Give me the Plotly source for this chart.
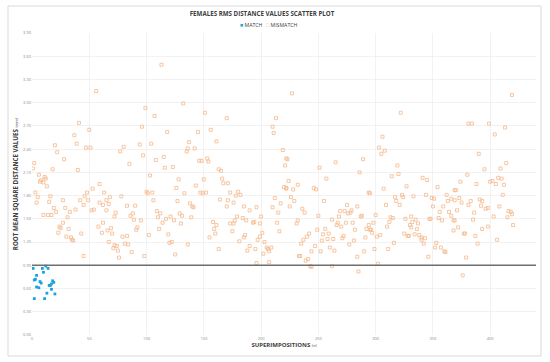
import plotly.graph_objects as go

# ---- data ----
match_n = [1, 2, 2, 3, 4, 4, 6, 7, 8, 9, 10, 11, 12, 13, 14, 15, 16, 17, 17, 18, 19, 20]
match_v = [0.86, 0.47, 0.71, 0.72, 0.77, 0.62, 0.61, 0.69, 0.67, 0.86, 0.81, 0.47,
           0.89, 0.54, 0.86, 0.64, 0.64, 0.59, 0.66, 0.70, 0.68, 0.53]

mismatch_n = [
    56, 41, 37, 50, 39, 20, 47, 51, 22, 28, 2, 1, 18, 40, 6, 11, 12, 8, 7, 10, 13, 59, 53, 3, 5, 4,
    16, 15, 48, 46, 42, 45, 49, 63, 59, 62, 65, 68, 67, 65, 27, 19, 29, 21, 38, 33, 52, 54, 10, 14,
    17, 31, 27, 24, 25, 32, 23, 30, 34, 35, 36, 43, 58, 62, 61, 66, 69, 70, 67, 71, 72, 45,
    113, 132, 99, 107, 96, 118, 145, 137, 136, 135, 142, 146, 80, 77, 94, 104, 97, 108, 115, 116,
    123, 85, 103, 128, 126, 143, 133, 147, 100, 105, 101, 78, 83, 90, 106, 127, 138, 140, 141, 88,
    86, 89, 95, 73, 72, 109, 112, 110, 121, 117, 114, 124, 129, 131, 130, 139, 92, 91, 111, 102,
    79, 83, 119, 120, 122, 136, 81, 84, 74, 75, 87, 76, 98, 125,
    151, 170, 156, 161, 213, 210, 211, 219, 221, 148, 153, 154, 163, 165, 150, 166, 167, 171, 220,
    222, 149, 152, 173, 180, 178, 182, 212, 164, 171, 176, 217, 170, 185, 196, 210, 190, 215, 179,
    184, 177, 187, 200, 193, 194, 199, 214, 158, 161, 173, 176, 175, 159, 160, 216, 201, 199, 197,
    155, 186, 185, 203, 181, 190, 205, 206, 209, 207, 188, 195, 163, 202, 196, 207,
    227, 222, 223, 265, 289, 251, 286, 257, 224, 232, 222, 228, 246, 248, 226, 229, 294, 255, 225,
    236, 238, 275, 284, 269, 273, 276, 278, 279, 250, 268, 287, 288, 262, 232, 231, 267, 266, 274,
    280, 270, 294, 292, 296, 256, 242, 240, 237, 235, 249, 254, 259, 258, 263, 272, 271, 282, 291,
    253, 260, 264, 281, 277, 247, 244, 252, 233, 234, 290, 284, 241, 239, 243, 244, 262, 285,
    322, 306, 303, 308, 305, 319, 320, 314, 341, 345, 327, 307, 354, 295, 323, 324, 317, 318, 333,
    344, 349, 351, 362, 366, 363, 369, 369, 309, 321, 350, 359, 356, 364, 300, 313, 315, 331, 326,
    335, 347, 348, 355, 358, 366, 368, 312, 332, 337, 298, 295, 297, 310, 330, 331, 329, 336, 368,
    325, 328, 304, 301, 334, 338, 340, 340, 343, 342, 316, 353, 299, 311, 352, 357, 360, 361, 346,
    302,
    419, 381, 384, 399, 413, 404, 390, 414, 409, 395, 380, 374, 400, 402, 407, 410, 388, 405, 412,
    370, 411, 373, 391, 393, 383, 375, 381, 392, 408, 398, 396, 371, 386, 416, 418, 419, 403, 415,
    369, 385, 420, 398, 393, 372, 377, 378, 387, 406, 389, 379, 376,
]
mismatch_v = [
    3.15, 2.74, 2.58, 2.65, 2.47, 2.45, 2.42, 2.42, 2.36, 2.27, 2.22, 2.15, 2.14, 2.13, 2.07, 2.04,
    2.02, 2.00, 1.98, 1.97, 1.92, 1.95, 1.89, 1.84, 1.78, 1.71, 1.79, 1.72, 1.84, 1.79, 1.74, 1.68,
    1.74, 1.84, 1.71, 1.68, 1.74, 1.78, 1.69, 1.61, 1.74, 1.64, 1.64, 1.59, 1.62, 1.59, 1.61, 1.62,
    1.55, 1.55, 1.55, 1.52, 1.45, 1.40, 1.38, 1.37, 1.32, 1.27, 1.26, 1.23, 1.22, 1.31, 1.40, 1.45,
    1.32, 1.35, 1.38, 1.31, 1.20, 1.12, 1.16, 1.02,
    3.49, 2.99, 2.93, 2.83, 2.69, 2.62, 2.62, 2.49, 2.41, 2.37, 2.41, 2.25, 2.43, 2.37, 2.46, 2.47,
    2.32, 2.26, 2.30, 2.16, 2.17, 2.21, 2.06, 2.01, 1.90, 1.93, 1.83, 1.84, 1.85, 1.84, 1.83, 1.79,
    1.67, 1.67, 1.74, 1.73, 1.70, 1.66, 1.65, 1.57, 1.54, 1.49, 1.48, 1.58, 1.53, 1.60, 1.57, 1.52,
    1.53, 1.50, 1.45, 1.48, 1.57, 1.54, 1.44, 1.52, 1.39, 1.36, 1.37, 1.29, 1.27, 1.28, 1.30, 1.19,
    1.20, 1.17, 1.18, 1.17, 1.15, 1.09, 1.07, 1.00, 1.02, 1.04,
    2.87, 2.80, 2.65, 2.50, 2.80, 2.69, 2.61, 2.39, 2.19, 2.25, 2.28, 2.24, 2.14, 2.12, 2.01, 2.02,
    1.96, 1.96, 1.91, 1.90, 1.83, 1.84, 1.84, 1.85, 1.80, 1.81, 1.77, 1.75, 1.74, 1.71, 1.70, 1.66,
    1.66, 1.65, 1.65, 1.61, 1.58, 1.53, 1.51, 1.48, 1.48, 1.53, 1.45, 1.46, 1.44, 1.45, 1.46, 1.42,
    1.44, 1.44, 1.34, 1.37, 1.31, 1.34, 1.32, 1.27, 1.23, 1.26, 1.29, 1.26, 1.20, 1.21, 1.15, 1.13,
    1.11, 1.13, 1.08, 1.09, 1.11, 1.11, 1.05, 0.93, 0.94,
    3.12, 2.28, 2.27, 2.23, 2.27, 2.16, 2.10, 2.02, 1.99, 1.94, 1.89, 1.88, 1.90, 1.88, 1.78, 1.73,
    1.84, 1.73, 1.66, 1.63, 1.58, 1.68, 1.66, 1.60, 1.60, 1.57, 1.58, 1.61, 1.54, 1.53, 1.53, 1.54,
    1.49, 1.48, 1.44, 1.45, 1.42, 1.45, 1.45, 1.40, 1.42, 1.37, 1.36, 1.37, 1.31, 1.27, 1.23, 1.18,
    1.36, 1.30, 1.31, 1.24, 1.24, 1.28, 1.25, 1.36, 1.26, 1.22, 1.13, 1.09, 1.22, 1.17, 1.15, 1.08,
    1.08, 1.02, 1.02, 1.08, 1.01, 0.98, 0.96, 0.89, 0.88, 0.89, 0.82,
    2.87, 2.56, 2.42, 2.38, 2.34, 2.19, 2.08, 2.05, 2.03, 2.00, 1.92, 1.89, 1.91, 1.83, 1.81, 1.78,
    1.78, 1.73, 1.79, 1.81, 1.77, 1.76, 1.81, 1.76, 1.73, 1.74, 1.87, 1.68, 1.68, 1.66, 1.66, 1.59,
    1.59, 1.55, 1.52, 1.51, 1.53, 1.50, 1.49, 1.50, 1.50, 1.51, 1.48, 1.54, 1.48, 1.46, 1.46, 1.44,
    1.45, 1.36, 1.32, 1.40, 1.42, 1.39, 1.28, 1.37, 1.35, 1.31, 1.28, 1.29, 1.27, 1.30, 1.29, 1.26,
    1.23, 1.25, 1.18, 1.19, 1.19, 1.11, 1.11, 1.13, 1.13, 1.08, 1.07, 1.01, 0.92,
    3.10, 2.73, 2.73, 2.73, 2.68, 2.59, 2.34, 2.22, 2.15, 2.14, 2.07, 1.98, 1.98, 1.99, 2.03, 2.02,
    1.95, 1.95, 1.94, 1.87, 1.81, 1.77, 1.75, 1.73, 1.73, 1.71, 1.68, 1.67, 1.66, 1.64, 1.63, 1.61,
    1.58, 1.60, 1.59, 1.56, 1.53, 1.52, 1.48, 1.49, 1.42, 1.40, 1.37, 1.39, 1.31, 1.31, 1.28, 1.23,
    1.18, 1.00, 0.77,
]

threshold = 0.90
y_ticks = [0.0, 0.3, 0.6, 0.9, 1.2, 1.5, 1.8, 2.1, 2.4, 2.7, 3.0, 3.3, 3.6, 3.9]
x_ticks = [0, 50, 100, 150, 200, 250, 300, 350, 400]

FONT = "Open Sans"
TXT = "#404040"
TICK = "#8a8a8a"
BLUE = "#1ba1e2"
ORANGE = "#f5b98c"

fig = go.Figure()
fig.add_trace(go.Scatter(
    x=match_n, y=match_v, mode="markers", name="MATCH", showlegend=False,
    marker=dict(symbol="square", size=2.8, color=BLUE, line=dict(width=0)),
))
fig.add_trace(go.Scatter(
    x=mismatch_n, y=mismatch_v, mode="markers", name="MISMATCH", showlegend=False,
    marker=dict(symbol="square-open", size=3, color=ORANGE, line=dict(width=0.8)),
))

# threshold line
fig.add_shape(type="line", xref="paper", yref="y", x0=0, x1=1, y0=threshold, y1=threshold,
              line=dict(color="#6e6e6e", width=1.5), layer="above")

# plot geometry (pixels)
W, H = 550, 362
L, R, T, B = 32, 536, 33, 335
pw, ph = R - L, B - T

# chart-area border
fig.add_shape(type="rect", xref="paper", yref="paper",
              x0=(8 - L) / pw, x1=(541 - L) / pw, y0=(B - 356) / ph, y1=(B - 6) / ph,
              line=dict(color="#d9d9d9", width=1), fillcolor="rgba(0,0,0,0)", layer="below")

# legend drawn as text items
fig.add_annotation(xref="paper", yref="paper", x=(238 - L) / pw, y=(B - 25) / ph,
                   xanchor="left", yanchor="middle", showarrow=False,
                   text=f"<span style='color:{BLUE}'>■</span> MATCH",
                   font=dict(size=5.2, color=TXT, family=FONT))
fig.add_annotation(xref="paper", yref="paper", x=(264 - L) / pw, y=(B - 25) / ph,
                   xanchor="left", yanchor="middle", showarrow=False,
                   text=f"<span style='color:{ORANGE}'>□</span> MISMATCH",
                   font=dict(size=5.2, color=TXT, family=FONT))

fig.update_layout(
    width=W, height=H,
    margin=dict(l=L, r=W - R, t=T, b=H - B, autoexpand=False),
    paper_bgcolor="white", plot_bgcolor="white",
    font=dict(family=FONT, color=TXT),
    hovermode=False,
    title=dict(text="<b>FEMALES RMS DISTANCE VALUES SCATTER PLOT</b>",
               x=262 / W, xanchor="center", y=1 - 14 / H, yanchor="middle",
               font=dict(size=6.2, color=TXT, family=FONT)),
    showlegend=False,
    xaxis=dict(range=[0, 440], tickvals=x_ticks, ticktext=[str(t) for t in x_ticks],
               showgrid=True, gridcolor="#ececec", gridwidth=0.7,
               zeroline=False, showline=False, ticks="",
               tickfont=dict(size=4, color=TICK, family=FONT),
               title=dict(text="<b>SUPERIMPOSITIONS</b> <span style='font-size:4px'>(n)</span>",
                          font=dict(size=6, color=TXT, family=FONT), standoff=2)),
    yaxis=dict(range=[0, 3.9], tickvals=y_ticks, ticktext=[f"{t:.2f}" for t in y_ticks],
               showgrid=True, gridcolor="#ececec", gridwidth=0.7,
               zeroline=False, showline=False, ticks="",
               tickfont=dict(size=4, color=TICK, family=FONT),
               title=dict(text="<b>ROOT MEAN SQUARE DISTANCE VALUES</b> <span style='font-size:4px'>(mm)</span>",
                          font=dict(size=6.2, color=TXT, family=FONT), standoff=3)),
)

fig.write_html("out.html", config={"displayModeBar": False, "staticPlot": True},
               post_script="document.body.style.margin='0';document.body.style.overflow='hidden';")
